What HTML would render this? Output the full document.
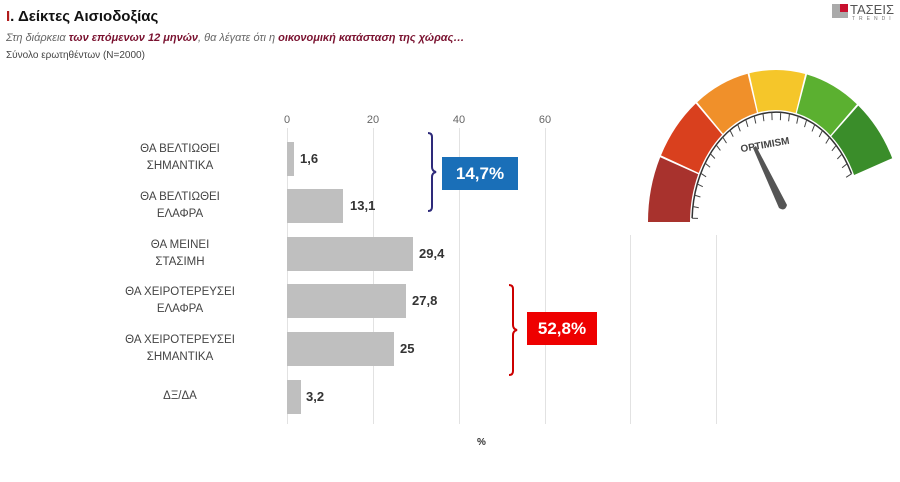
<!DOCTYPE html>
<html><head><meta charset="utf-8"><style>
body{margin:0;background:#fff;}
#c{position:relative;width:900px;height:482px;overflow:hidden;font-family:"Liberation Sans","DejaVu Sans",sans-serif;}
.t{position:absolute;white-space:nowrap;}
.lab{position:absolute;right:620px;width:200px;text-align:center;font-size:11.5px;color:#444;line-height:17px;}
.bar{position:absolute;left:287px;height:34px;background:#bfbfbf;}
.val{position:absolute;font-size:13px;font-weight:bold;color:#333;}
.g{position:absolute;top:128px;height:296px;width:1px;background:#e2e2e2;}
.tk{position:absolute;top:114px;font-size:11px;color:#666;width:30px;text-align:center;}
</style></head><body><div id="c">
<div class="t" style="left:6px;top:8px;font-size:15px;font-weight:bold;color:#111;"><span style="color:#b01c1c">Ι</span>. Δείκτες Αισιοδοξίας</div>
<div class="t" style="left:6px;top:32px;font-size:11px;font-style:italic;color:#666;">Στη διάρκεια <b style="color:#7a1230">των επόμενων 12 μηνών</b>, θα λέγατε ότι η <b style="color:#7a1230">οικονομική κατάσταση της χώρας…</b></div>
<div class="t" style="left:6px;top:50px;font-size:10px;color:#444;">Σύνολο ερωτηθέντων (N=2000)</div>
<div class="t" style="left:832px;top:4px;width:16px;height:14px;background:#aaa;"></div>
<div class="t" style="left:840px;top:4px;width:8px;height:8px;background:#c8102e;"></div>
<div class="t" style="left:850px;top:2px;font-size:13px;color:#555;">ΤΑΣΕΙΣ</div>
<div class="t" style="left:852px;top:16px;font-size:5px;letter-spacing:4px;color:#777;">TRENDI</div>

<div class="g" style="left:287px"></div><div class="g" style="left:373px"></div><div class="g" style="left:459px"></div><div class="g" style="left:545px"></div><div class="g" style="left:630px"></div><div class="g" style="left:716px"></div>
<div class="tk" style="left:272px">0</div><div class="tk" style="left:358px">20</div><div class="tk" style="left:444px">40</div><div class="tk" style="left:530px">60</div>

<div class="lab" style="top:141px">ΘΑ ΒΕΛΤΙΩΘΕΙ<br>ΣΗΜΑΝΤΙΚΑ</div>
<div class="lab" style="top:189px">ΘΑ ΒΕΛΤΙΩΘΕΙ<br>ΕΛΑΦΡΑ</div>
<div class="lab" style="top:237px">ΘΑ ΜΕΙΝΕΙ<br>ΣΤΑΣΙΜΗ</div>
<div class="lab" style="top:284px">ΘΑ ΧΕΙΡΟΤΕΡΕΥΣΕΙ<br>ΕΛΑΦΡΑ</div>
<div class="lab" style="top:332px">ΘΑ ΧΕΙΡΟΤΕΡΕΥΣΕΙ<br>ΣΗΜΑΝΤΙΚΑ</div>
<div class="lab" style="top:388px">ΔΞ/ΔΑ</div>

<div class="bar" style="top:142px;width:7px"></div><div class="val" style="left:300px;top:151px">1,6</div>
<div class="bar" style="top:189px;width:56px"></div><div class="val" style="left:350px;top:198px">13,1</div>
<div class="bar" style="top:237px;width:126px"></div><div class="val" style="left:419px;top:246px">29,4</div>
<div class="bar" style="top:284px;width:119px"></div><div class="val" style="left:412px;top:293px">27,8</div>
<div class="bar" style="top:332px;width:107px"></div><div class="val" style="left:400px;top:341px">25</div>
<div class="bar" style="top:380px;width:14px"></div><div class="val" style="left:306px;top:389px">3,2</div>
<div class="t" style="left:477px;top:437px;font-size:10px;font-weight:bold;color:#333">%</div>

<svg class="t" style="left:0;top:0" width="900" height="482">
<rect x="620" y="60" width="280" height="175" fill="#fff"/>
<path d="M428,133 q4,0 4,4 v30 q0,4 4,5 q-4,1 -4,5 v30 q0,4 -4,4" fill="none" stroke="#2e2a7a" stroke-width="2"/>
<path d="M509,285 q4,0 4,4 v36 q0,4 4,5 q-4,1 -4,5 v36 q0,4 -4,4" fill="none" stroke="#c00" stroke-width="2"/>
<g id="gauge"></g>
</svg>
<div class="t" style="left:442px;top:157px;width:76px;height:33px;background:#1a6fb8;color:#fff;font-size:17px;font-weight:bold;text-align:center;line-height:33px">14,7%</div>
<div class="t" style="left:527px;top:312px;width:70px;height:33px;background:#e00;color:#fff;font-size:17px;font-weight:bold;text-align:center;line-height:33px">52,8%</div>
</div>
<script>
var cx=776,cy=222,ro=[128,152],ri=[86,112];
var cols=["#a8322d","#d9401e","#f0902a","#f5c62a","#5bb030","#3a8d2a"];
function P(r,t){t=t*Math.PI/180;return (cx+r[0]*Math.cos(t)).toFixed(1)+","+(cy-r[1]*Math.sin(t)).toFixed(1);}
function X(r,t){return P(r,t).split(",");}
var s="",A=180,B=24,st=(A-B)/6;
for(var i=0;i<6;i++){var a=A-i*st,b=a-st+0.8;
s+='<path d="M'+P(ro,a)+' A'+ro[0]+','+ro[1]+' 0 0 1 '+P(ro,b)+' L'+P(ri,b)+' A'+ri[0]+','+ri[1]+' 0 0 0 '+P(ri,a)+'Z" fill="'+cols[i]+'"/>';}
var rr=[84,110];
s+='<path d="M'+P(rr,178)+' A84,110 0 0 1 '+P(rr,26)+'" fill="none" stroke="#333" stroke-width="1.5"/>';
for(var k=0;k<=25;k++){var t=178-k*6.08,p=X(rr,t),q=X([78,102],t);s+='<line x1="'+p[0]+'" y1="'+p[1]+'" x2="'+q[0]+'" y2="'+q[1]+'" stroke="#444" stroke-width="1"/>';}
s+='<text x="765" y="148" font-size="10" font-weight="bold" fill="#444" text-anchor="middle" transform="rotate(-10 765 145)" font-family="Liberation Sans,sans-serif">OPTIMISM</text>';
s+='<path d="M753,148 L756,146 L787,205 Q785,212 779,208 Z" fill="#555"/>';
document.getElementById("gauge").innerHTML=s;
</script>
</body></html>
